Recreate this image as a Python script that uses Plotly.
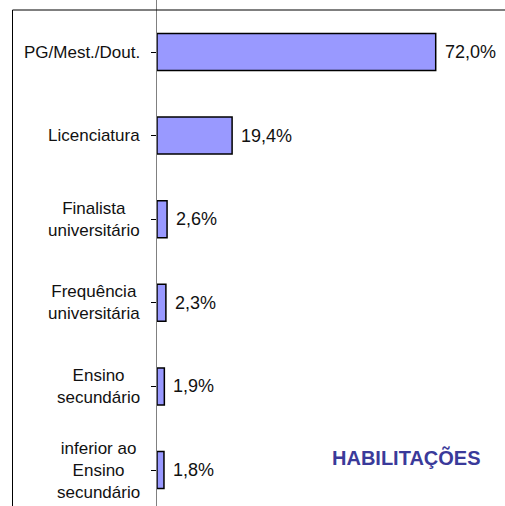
import plotly.graph_objects as go

categories = [
    "PG/Mest./Dout.",
    "Licenciatura",
    "Finalista<br>universitário",
    "Frequência<br>universitária",
    "Ensino<br>secundário",
    "inferior ao<br>Ensino<br>secundário",
]
values = [72.0, 19.4, 2.6, 2.3, 1.9, 1.8]
title_text = "HABILITAÇÕES"

W, H = 505, 506
L = 157
plot_w = W - L
px_per_unit = 3.871
x_max = plot_w / px_per_unit

band_c0 = 52.0
band = 83.6
y_top = -band_c0 / band
y_bot = (H - band_c0) / band

idx = list(range(len(categories)))

fig = go.Figure()
fig.add_trace(go.Bar(
    x=values, y=idx, orientation="h",
    marker=dict(color="#9999ff", line=dict(color="#000000", width=1.5)),
    hoverinfo="skip",
))

font_family = "Liberation Sans, Arial, sans-serif"
annotations = []
for i, (c, v) in enumerate(zip(categories, values)):
    annotations.append(dict(
        x=(142 - L) / plot_w, xref="paper", y=i, yref="y",
        text=c, showarrow=False, xanchor="right", yanchor="middle",
        align="center", font=dict(family=font_family, size=17, color="#111111"),
    ))
    annotations.append(dict(
        x=v, xref="x", y=i, yref="y", xshift=7,
        text=f"{v:.1f}".replace(".", ",") + "%", showarrow=False,
        xanchor="left", yanchor="middle",
        font=dict(family=font_family, size=18, color="#111111"),
    ))
annotations.append(dict(
    x=(406 - L) / plot_w, xref="paper", y=1 - 457 / H, yref="paper",
    text=f"<b>{title_text}</b>", showarrow=False, xanchor="center", yanchor="middle",
    font=dict(family=font_family, size=20, color="#3a3a9a"),
))

fx = (12.5 - L) / plot_w
fy = 1 - 10 / H
shapes = [
    dict(type="line", xref="paper", yref="paper", x0=fx, x1=fx, y0=-0.1, y1=fy,
         line=dict(color="#000000", width=1)),
    dict(type="line", xref="paper", yref="paper", x0=fx, x1=1.2, y0=fy, y1=fy,
         line=dict(color="#000000", width=1)),
]

fig.update_layout(
    width=W, height=H,
    margin=dict(l=L, r=0, t=0, b=0),
    paper_bgcolor="white", plot_bgcolor="white",
    bargap=0.557,
    showlegend=False,
    hovermode=False,
    xaxis=dict(visible=False, range=[0, x_max]),
    yaxis=dict(
        range=[y_bot, y_top],
        tickmode="array", tickvals=idx, ticktext=[""] * len(idx),
        showticklabels=False, tickson="boundaries",
        ticks="outside", ticklen=5, tickcolor="#000000", tickwidth=1,
        showline=True, linecolor="#808080", linewidth=1,
        showgrid=False, zeroline=False,
    ),
    annotations=annotations,
    shapes=shapes,
)

fig.write_html(
    "out.html",
    config={"displayModeBar": False},
    post_script="document.body.style.margin='0';document.body.style.overflow='hidden';",
)
